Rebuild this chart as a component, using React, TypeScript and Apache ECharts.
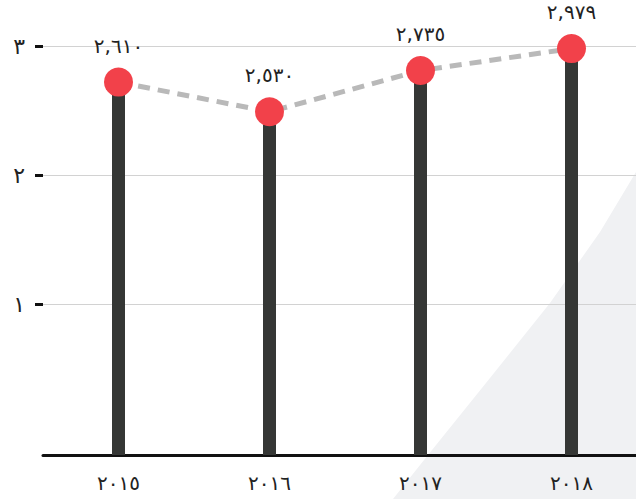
import React, { useEffect, useRef } from "react";
import * as echarts from "echarts";

const categories = ["٢٠١٥", "٢٠١٦", "٢٠١٧", "٢٠١٨"];
// plotted heights
const values = [2.72, 2.49, 2.81, 2.98];
// the printed value labels
const valueLabels = ["٢,٦١٠", "٢,٥٣٠", "٢,٧٣٥", "٢,٩٧٩"];
const yTickValues = [1, 2, 3];
const yTickLabels = ["١", "٢", "٣"];
const axisFloor = -0.1705;
const floorValues = [axisFloor, axisFloor, axisFloor, axisFloor];

const FONT = "DejaVu Sans";

export default function App() {
  const ref = useRef<HTMLDivElement>(null);
  useEffect(() => {
    const chart = echarts.init(ref.current!, null, { renderer: "svg" });
    chart.setOption({
      animation: false,
      backgroundColor: "#ffffff",
      textStyle: { fontFamily: FONT },
      graphic: [
        {
          type: "polygon",
          z: -10,
          shape: {
            points: [
              [393, 499],
              [428, 455],
              [490, 378],
              [550, 303],
              [600, 232],
              [636, 172],
              [680, 172],
              [680, 499],
            ],
          },
          style: { fill: "#f0f1f3" },
        },
      ],
      grid: { left: 43, top: 46, width: 604, height: 409 },
      xAxis: {
        type: "category",
        data: categories,
        axisLine: { onZero: false, lineStyle: { color: "#111", width: 3 } },
        axisTick: { show: false },
        axisLabel: { fontSize: 20, color: "#222", margin: 18, fontFamily: FONT },
      },
      yAxis: {
        type: "value",
        min: axisFloor,
        max: 3,
        axisLine: { show: false },
        axisTick: {
          show: true,
          customValues: yTickValues,
          length: 8,
          lineStyle: { color: "#111", width: 3 },
        },
        axisLabel: {
          customValues: yTickValues,
          formatter: (v: number) => yTickLabels[yTickValues.indexOf(Math.round(v))] ?? "",
          fontSize: 22,
          color: "#222",
          margin: 18,
          fontFamily: FONT,
        },
        splitLine: { show: true, lineStyle: { color: "#d2d2d2", width: 1 } },
      },
      series: [
        {
          type: "bar",
          stack: "b",
          data: floorValues,
          barWidth: 13,
          itemStyle: { color: "#353735" },
          z: 2,
        },
        {
          type: "bar",
          stack: "b",
          data: values,
          barWidth: 13,
          itemStyle: { color: "#353735" },
          z: 2,
        },
        {
          type: "line",
          data: values,
          symbol: "circle",
          symbolSize: 29,
          itemStyle: { color: "#f2414a" },
          lineStyle: { color: "#b9b9b9", width: 5, type: [12, 8] },
          label: {
            show: true,
            position: "top",
            distance: 12,
            fontSize: 20,
            color: "#222",
            fontFamily: FONT,
            formatter: (p: any) => valueLabels[p.dataIndex],
          },
          z: 5,
        },
      ],
    });
    return () => chart.dispose();
  }, []);
  return (
    <div
      style={{
        position: "fixed",
        left: 0,
        top: 0,
        width: 636,
        height: 499,
        overflow: "hidden",
        background: "#fff",
      }}
    >
      <div ref={ref} style={{ width: 680, height: 499 }} />
    </div>
  );
}
